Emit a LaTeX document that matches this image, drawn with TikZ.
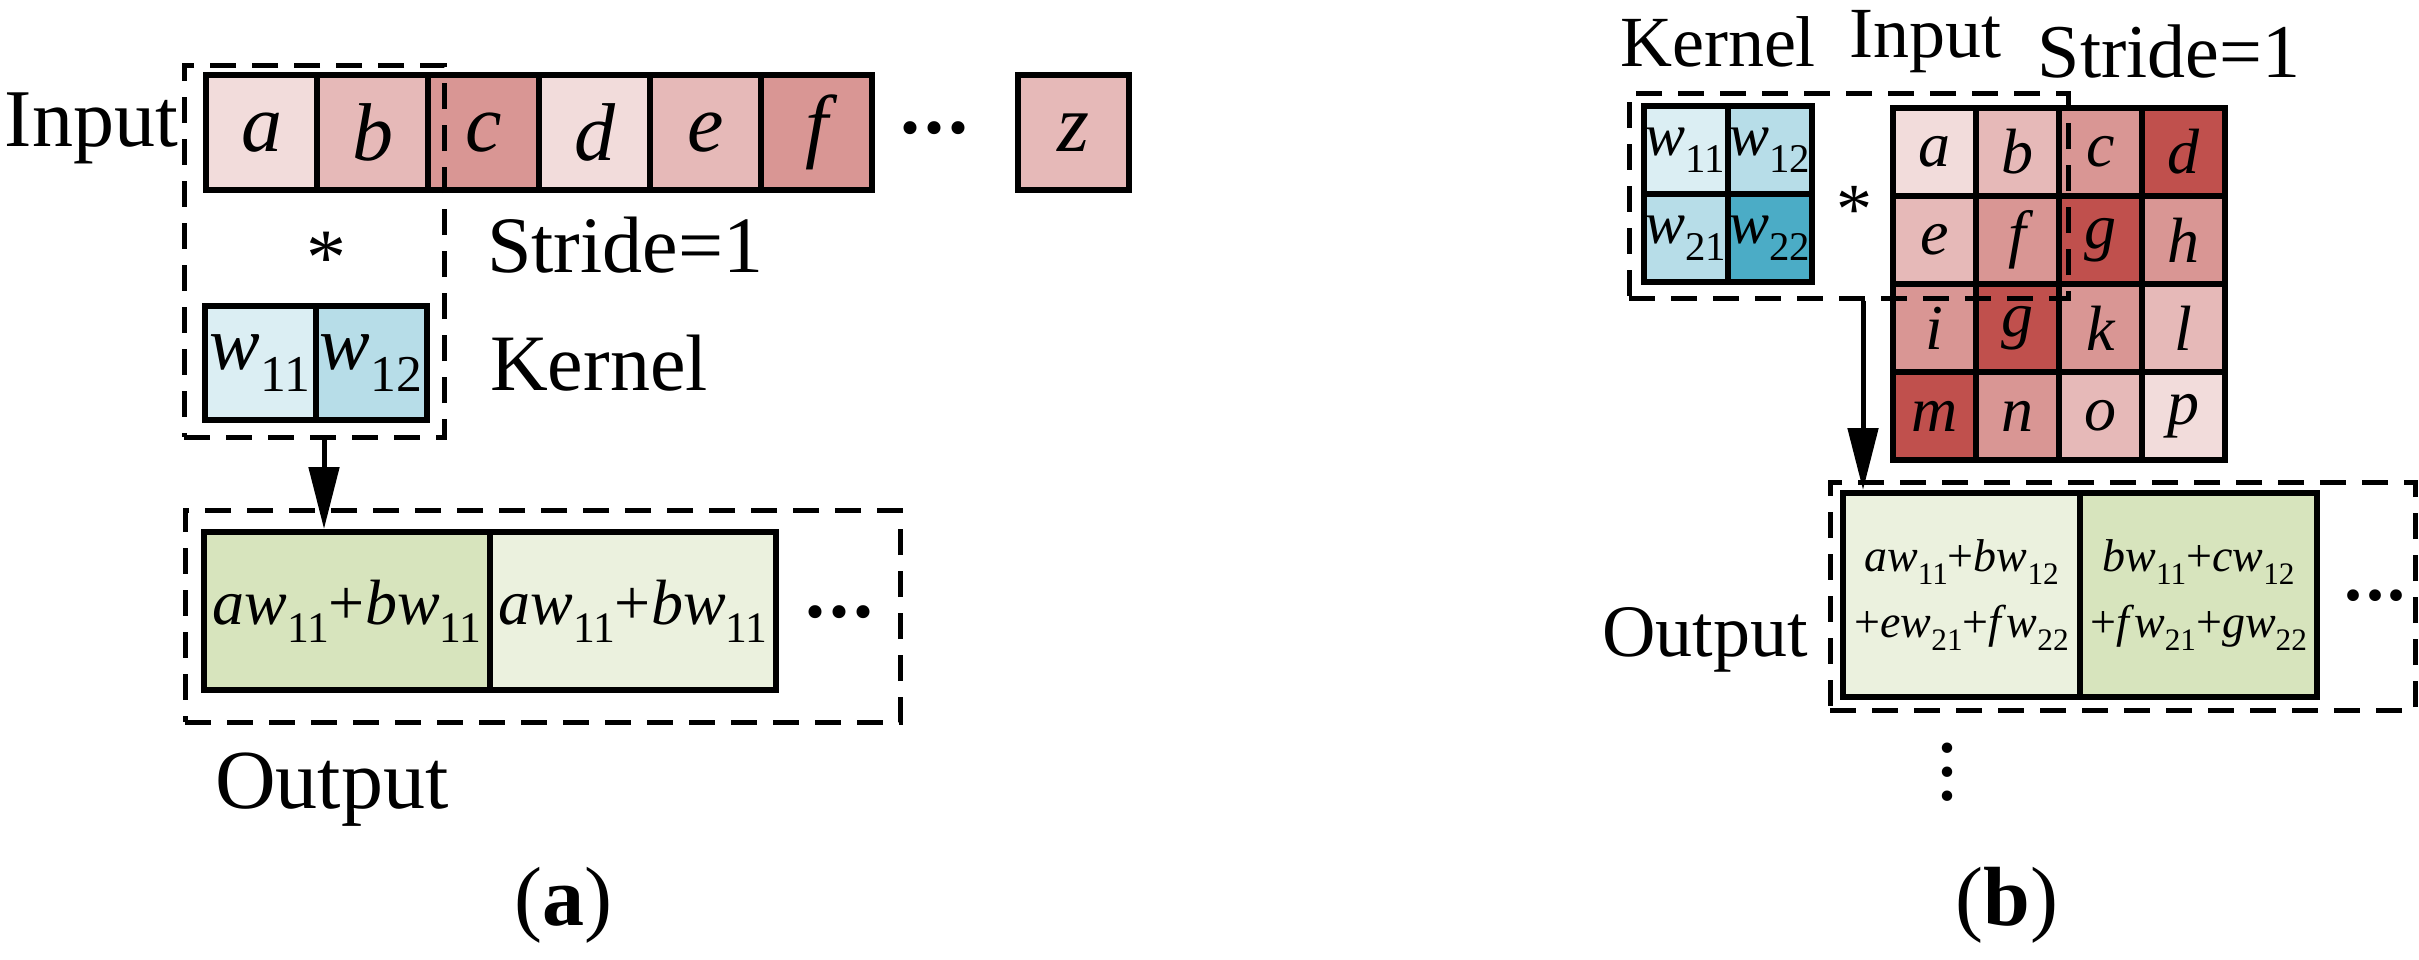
\documentclass[tikz,border=0pt]{standalone}
\usepackage{fontspec}
\setmainfont{Liberation Serif}
\usetikzlibrary{arrows.meta}
\definecolor{r1}{HTML}{F2DCDB}
\definecolor{r2}{HTML}{E6B9B8}
\definecolor{r3}{HTML}{D99694}
\definecolor{r4}{HTML}{C0504D}
\definecolor{b1}{HTML}{DBEEF3}
\definecolor{b2}{HTML}{B7DDE8}
\definecolor{b3}{HTML}{4BACC6}
\definecolor{g1}{HTML}{EBF1DE}
\definecolor{g2}{HTML}{D7E4BD}
\newcommand{\fs}[1]{\fontsize{#1}{#1}\selectfont}
\newcommand{\wsub}[2]{\textit{#1}\raisebox{-0.28em}{\scalebox{0.68}{#2}}}
\newcommand{\hdots}{\textbf{.\kern0.05em.\kern0.05em.}}
\tikzset{
  cellA/.style={draw,line width=6pt,inner sep=0pt,minimum width=111pt,minimum height=115pt,font=\fs{82}\itshape},
  cellB/.style={draw,line width=6pt,inner sep=0pt,minimum width=83pt,minimum height=88pt,font=\fs{64}\itshape},
  kerA/.style={draw,line width=6pt,inner sep=0pt,minimum width=111pt,minimum height=114pt,font=\fs{76}},
  kerB/.style={draw,line width=6pt,inner sep=0pt,minimum width=84pt,minimum height=88pt,font=\fs{60}},
  outA/.style={draw,line width=6pt,inner sep=0pt,minimum width=286pt,minimum height=158pt,font=\fs{64}},
  outB/.style={draw,line width=6pt,inner sep=0pt,minimum width=237pt,minimum height=204pt,font=\fs{46},align=center},
  dbox/.style={draw,line width=5pt,dash pattern=on 26pt off 16pt},
  lbl/.style={inner sep=0pt,font=\fs{80}},
  lblB/.style={inner sep=0pt,font=\fs{72}},
  arr/.style={line width=5pt,-{Triangle[length=62pt,width=30pt]}}
}
\begin{document}
\begin{tikzpicture}[x=1pt,y=-1pt]
\useasboundingbox (0,0) rectangle (2419,959);
% ---------- (a) ----------
\node[cellA,fill=r1] (ia) at (261.5,132.5) {a};
\node[cellA,fill=r2] (ib) at (372.5,132.5) {b};
\node[cellA,fill=r3] (ic) at (483.5,132.5) {c};
\node[cellA,fill=r1] (id) at (594.5,132.5) {d};
\node[cellA,fill=r2] (ie) at (705.5,132.5) {e};
\node[cellA,fill=r3] (if) at (816.5,132.5) {f};
\node[lbl] (idots) at (934,128) {\hdots};
\node[cellA,fill=r2] (iz) at (1073.5,132.5) {z};
\node[lbl,anchor=east,font=\fs{82}] (inlbl) at (178,128) {Input};
\node[lbl] (star) at (326,258) {*};
\node[lbl,anchor=west] (stride) at (487,245) {Stride=1};
\node[kerA,fill=b1] (k11) at (260,363) {\wsub{w}{11}};
\node[kerA,fill=b2] (k12) at (371,363) {\wsub{w}{12}};
\node[lbl,anchor=west] (klbl) at (490,363) {Kernel};
\node[dbox,inner sep=0pt,minimum width=260pt,minimum height=372pt] (kbox) at (314,251) {};
\node[outA,fill=g2] (o1) at (347,611) {\textit{a}\wsub{w}{11}+\textit{b}\wsub{w}{11}};
\node[outA,fill=g1] (o2) at (633,611) {\textit{a}\wsub{w}{11}+\textit{b}\wsub{w}{11}};
\node[lbl] (odots) at (839,612) {\hdots};
\node[dbox,inner sep=0pt,minimum width=715pt,minimum height=212pt] (obox) at (542.5,616) {};
\node[lbl,font=\fs{84}] (olbl) at (332,790) {Output};
\node[lbl,font=\fs{84}] (capa) at (563,905) {(\textbf{a})};
\draw[arr] (kbox.south -| 324,0) -- (o1.north -| 324,0);
% ---------- (b) ----------
\node[kerB,fill=b1] (q11) at (1685.5,150) {\wsub{w}{11}};
\node[kerB,fill=b2] (q12) at (1769.5,150) {\wsub{w}{12}};
\node[kerB,fill=b2] (q21) at (1685.5,238) {\wsub{w}{21}};
\node[kerB,fill=b3] (q22) at (1769.5,238) {\wsub{w}{22}};
\node[lblB] (star2) at (1854,210) {*};
\foreach \r/\yy/\row in {1/152/{a/r1,b/r2,c/r3,d/r4},2/240/{e/r2,f/r3,g/r4,h/r3},3/328/{i/r3,g/r4,k/r3,l/r2},4/416/{m/r4,n/r3,o/r2,p/r1}}{
  \foreach \t/\c [count=\i] in \row {
    \node[cellB,fill=\c] (g\r\i) at ({1851.5+83*\i},\yy) {\t};
  }
}
\node[dbox,inner sep=0pt,minimum width=439pt,minimum height=205pt] (kbox2) at (1848.5,195.5) {};
\node[lblB,font=\fs{72}] (klbl2) at (1718,42) {Kernel};
\node[lblB,font=\fs{72}] (inlbl2) at (1925,42) {Input};
\node[lblB,font=\fs{76}] (stride2) at (2169,52) {Stride=1};
\node[outB,fill=g1] (p1) at (1961.5,595) {\textit{a}\wsub{w}{11}+\textit{b}\wsub{w}{12}\\[20pt]+\textit{e}\wsub{w}{21}+\textit{f}\wsub{w}{22}};
\node[outB,fill=g2] (p2) at (2198.5,595) {\textit{b}\wsub{w}{11}+\textit{c}\wsub{w}{12}\\[20pt]+\textit{f}\wsub{w}{21}+\textit{g}\wsub{w}{22}};
\node[lblB] (pdots) at (2375,596) {\hdots};
\node[dbox,inner sep=0pt,minimum width=585pt,minimum height=228pt] (obox2) at (2122.5,596) {};
\node[lblB,anchor=east,font=\fs{74}] (olbl2) at (1808,640) {Output};
\node[lblB,align=center,font=\bfseries\fs{64}] (vdots) at (1947,772) {.\\[-40pt].\\[-40pt].};
\node[lbl,font=\fs{84}] (capb) at (2007,905) {(\textbf{b})};
\draw[arr] (kbox2.south -| 1863,0) -- (p1.north -| 1863,0);
\end{tikzpicture}
\end{document}
